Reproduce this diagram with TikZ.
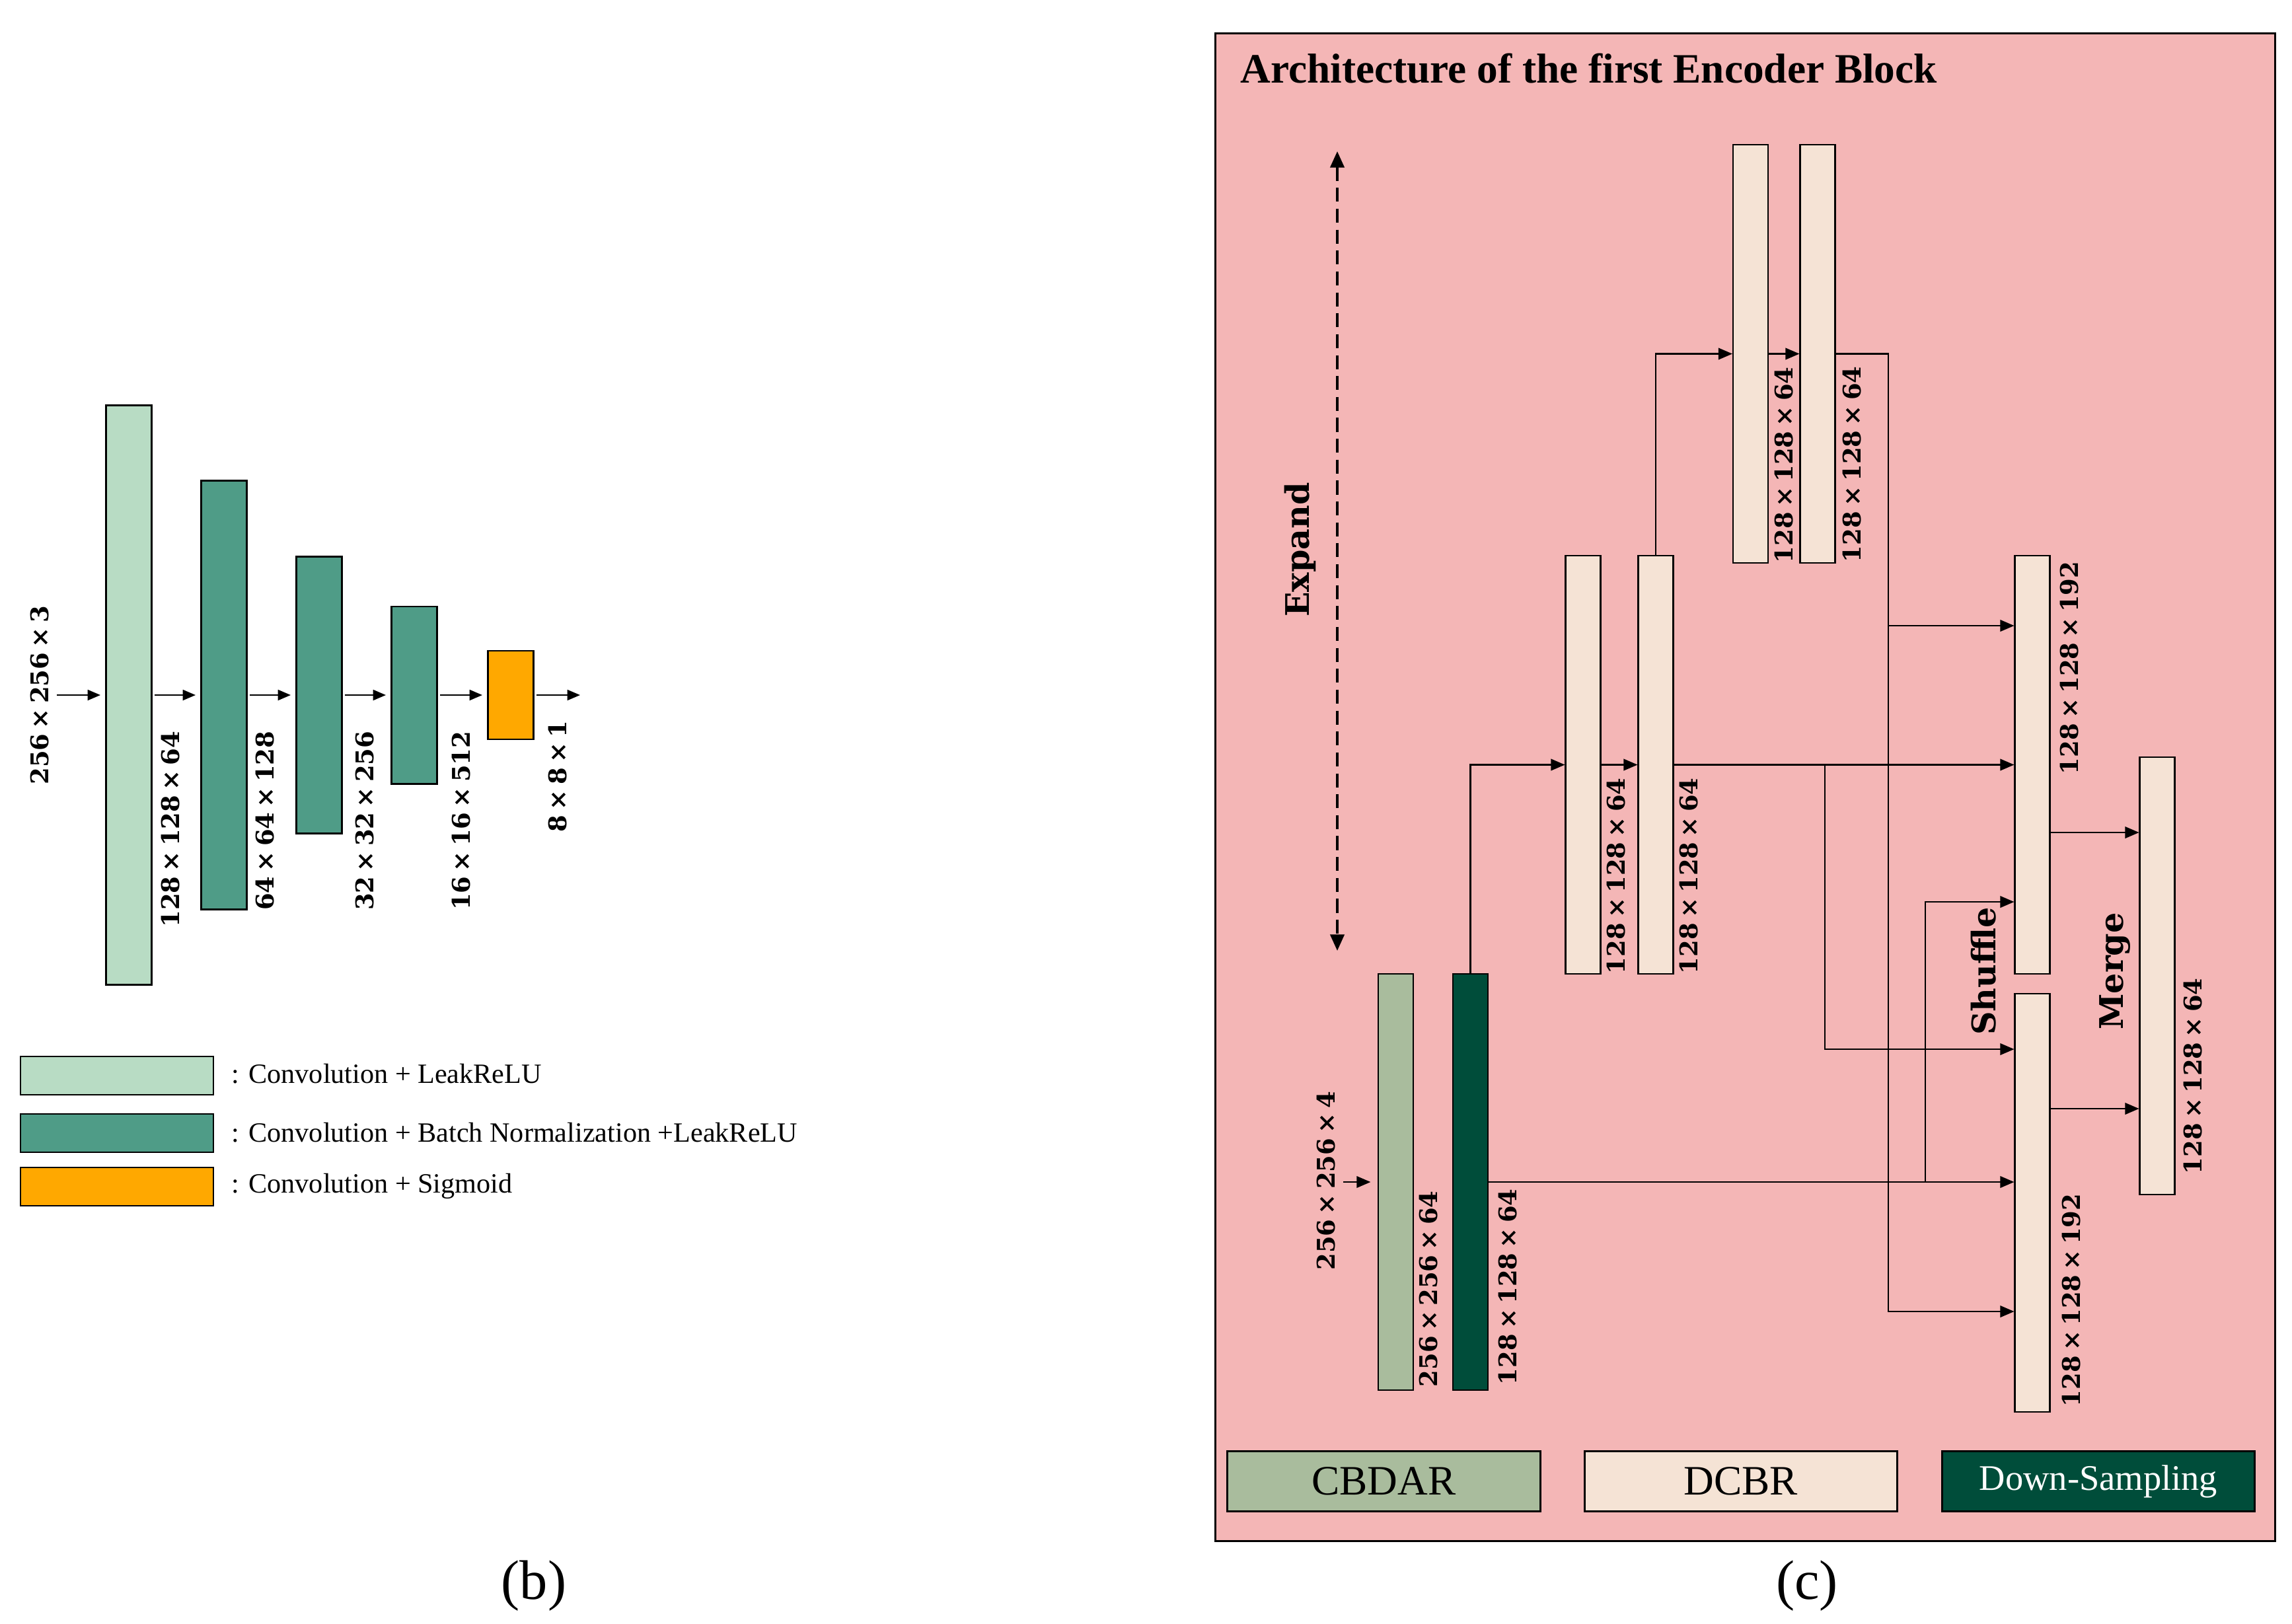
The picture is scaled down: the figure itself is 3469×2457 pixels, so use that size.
\documentclass[tikz,border=0pt]{standalone}
\usepackage{fontspec}
\setmainfont{Liberation Serif}
\newfontfamily\lblfont{DejaVu Serif}
\newcommand\dimx{\hspace{0.2em}×\hspace{0.2em}}
\usetikzlibrary{arrows.meta,calc}
\definecolor{lgreen}{HTML}{B8DCC4}
\definecolor{mgreen}{HTML}{4F9C87}
\definecolor{orng}{HTML}{FFA800}
\definecolor{pinkbg}{HTML}{F4B6B6}
\definecolor{sage}{HTML}{A9BC9D}
\definecolor{dcbr}{HTML}{F5E3D5}
\definecolor{dsg}{HTML}{004D3A}
\begin{document}
\begin{tikzpicture}[x=0.01cm,y=-0.01cm,
  blk/.style={draw=black, line width=0.8pt, inner sep=0pt, minimum width=0.69cm},
  bar/.style={draw=black, line width=0.6pt, inner sep=0pt, minimum width=0.53cm, minimum height=6.33cm, fill=dcbr},
  barr/.style={-{Triangle[length=5.5pt,width=4.5pt]}, line width=0.7pt},
  carr/.style={-{Triangle[length=6pt,width=5pt]}, line width=0.6pt},
  dim/.style={font=\lblfont\fontsize{10.5}{13}\selectfont\bfseries, rotate=90, inner sep=0pt},
  bigl/.style={font=\lblfont\fontsize{14}{17}\selectfont\bfseries, rotate=90, inner sep=0pt},
  leg/.style={font=\fontsize{12}{14}\selectfont, anchor=west, inner sep=0pt},
  legc/.style={draw=black, line width=0.8pt, minimum width=4.73cm, minimum height=0.91cm, inner sep=0pt},
]
\path[use as bounding box] (0,0) rectangle (3469,2457);

% ---------------- panel (b)
\node[blk, fill=lgreen, minimum height=8.76cm] (b1) at (195,1052) {};
\node[blk, fill=mgreen, minimum height=6.48cm] (b2) at (339,1052) {};
\node[blk, fill=mgreen, minimum height=4.18cm] (b3) at (483,1052) {};
\node[blk, fill=mgreen, minimum height=2.68cm] (b4) at (627,1052) {};
\node[blk, fill=orng, minimum height=1.34cm] (b5) at (773,1052) {};
\coordinate (bin) at (86,1052);
\coordinate (bout) at (878,1052);
\draw[barr, shorten >=2pt] (bin) -- (b1.west);
\draw[barr, shorten <=1pt, shorten >=2pt] (b1.east) -- (b2.west);
\draw[barr, shorten <=1pt, shorten >=2pt] (b2.east) -- (b3.west);
\draw[barr, shorten <=1pt, shorten >=2pt] (b3.east) -- (b4.west);
\draw[barr, shorten <=1pt, shorten >=2pt] (b4.east) -- (b5.west);
\draw[barr, shorten <=1pt] (b5.east) -- (bout);

\node[dim, anchor=center] (lin) at (60,1052) {256\dimx 256\dimx 3};
\node[dim, anchor=east] (lb1) at (258,1106) {128\dimx 128\dimx 64};
\node[dim, anchor=east] (lb2) at (401,1106) {64\dimx 64\dimx 128};
\node[dim, anchor=east] (lb3) at (552,1106) {32\dimx 32\dimx 256};
\node[dim, anchor=east] (lb4) at (698,1106) {16\dimx 16\dimx 512};
\node[dim, anchor=east] (lb5) at (844,1090) {8\dimx 8\dimx 1};

\node[blk, fill=lgreen, minimum width=2.92cm, minimum height=0.58cm] (lg1) at (177,1628) {};
\node[blk, fill=mgreen, minimum width=2.92cm, minimum height=0.58cm] (lg2) at (177,1715) {};
\node[blk, fill=orng, minimum width=2.92cm, minimum height=0.58cm] (lg3) at (177,1796) {};
\node[leg] (lt1) at (350,1625) {: Convolution + LeakReLU};
\node[leg] (lt2) at (350,1714) {: Convolution + Batch Normalization +LeakReLU};
\node[leg] (lt3) at (350,1795) {: Convolution + Sigmoid};

\node[font=\fontsize{24}{28}\selectfont] (capb) at (808,2400) {(b)};
\node[font=\fontsize{24}{28}\selectfont] (capc) at (2735,2400) {(c)};

% ---------------- panel (c)
\node[draw=black, line width=0.7pt, fill=pinkbg, minimum width=16.03cm, minimum height=22.81cm, inner sep=0pt] (frame) at (2641.5,1191.5) {};
\node[font=\fontsize{18}{22}\selectfont\bfseries, anchor=west, inner sep=0pt] (title) at (1877,104) {Architecture of the first Encoder Block};

\coordinate (eTop) at (2024,229);
\coordinate (eBot) at (2024,1439);
\draw[{Triangle[length=7pt,width=6pt]}-{Triangle[length=7pt,width=6pt]}, line width=1.1pt, dash pattern=on 6pt off 3pt] (eTop) -- (eBot);
\node[bigl] (expand) at (1968,832) {Expand};

\node[bar, fill=sage, minimum height=6.30cm] (cb) at (2112.5,1789) {};
\node[bar, fill=dsg, minimum height=6.30cm] (ds) at (2225.5,1789) {};
\node[bar] (l2a) at (2396,1157.5) {};
\node[bar] (l2b) at (2506,1157.5) {};
\node[bar] (l3a) at (2649.5,535.5) {};
\node[bar] (l3b) at (2751,535.5) {};
\node[bar] (r1) at (3076,1157.5) {};
\node[bar] (r2) at (3076,1820.5) {};
\node[bar, minimum height=6.62cm] (mg) at (3265,1477) {};

\coordinate (cin) at (2033,1789);
\draw[carr, shorten >=3pt] (cin) -- (cb.west);
\draw[carr] (ds.north) |- (l2a.west);
\draw[carr] (l2a.east) -- (l2b.west);
\draw[carr] (l2b.north) |- (l3a.west);
\draw[carr] (l3a.east) -- (l3b.west);
\coordinate (va) at (2858,1985);
\coordinate (va1) at (2858,947);
\draw[carr] (l3b.east) -| (va) -- (va -| r2.west);
\draw[carr] (va1) -- (va1 -| r1.west);
\draw[carr] (l2b.east) -- (r1.west);
\coordinate (vb) at (2762,1588);
\draw[carr] (vb |- l2b.east) -- (vb) -- (vb -| r2.west);
\draw[carr] (ds.east) -- (ds.east -| r2.west);
\coordinate (vc) at (2914,1365);
\draw[carr] (vc |- ds.east) -- (vc) -- (vc -| r1.west);
\coordinate (m1) at (3170,1260);
\coordinate (m2) at (3170,1678);
\draw[carr] (m1 -| r1.east) -- (m1 -| mg.west);
\draw[carr] (m2 -| r2.east) -- (m2 -| mg.west);

\node[dim, anchor=center] (cinl) at (2007,1787) {256\dimx 256\dimx 4};
\node[dim, anchor=west] (lcb) at (2162,2100) {256\dimx 256\dimx 64};
\node[dim, anchor=west] (lds) at (2282,2097) {128\dimx 128\dimx 64};
\node[dim, anchor=west] (ll2a) at (2446,1475) {128\dimx 128\dimx 64};
\node[dim, anchor=west] (ll2b) at (2556,1475) {128\dimx 128\dimx 64};
\node[dim, anchor=west] (ll3a) at (2700,853) {128\dimx 128\dimx 64};
\node[dim, anchor=west] (ll3b) at (2803,852) {128\dimx 128\dimx 64};
\node[dim, anchor=east] (lr1) at (3132,849) {128\dimx 128\dimx 192};
\node[dim, anchor=west] (lr2) at (3135,2130) {128\dimx 128\dimx 192};
\node[dim, anchor=west] (lmg) at (3319,1778) {128\dimx 128\dimx 64};
\node[bigl] (shuf) at (3002,1470) {Shuffle};
\node[bigl] (merge) at (3201,1470) {Merge};

\node[legc, fill=sage, font=\fontsize{18}{22}\selectfont] (lgc1) at (2094.5,2242) {CBDAR};
\node[legc, fill=dcbr, font=\fontsize{18}{22}\selectfont] (lgc2) at (2635,2242) {DCBR};
\node[legc, fill=dsg, text=white, font=\fontsize{15.5}{19}\selectfont] (lgc3) at (3176,2242) {Down-Sampling};
\end{tikzpicture}
\end{document}
